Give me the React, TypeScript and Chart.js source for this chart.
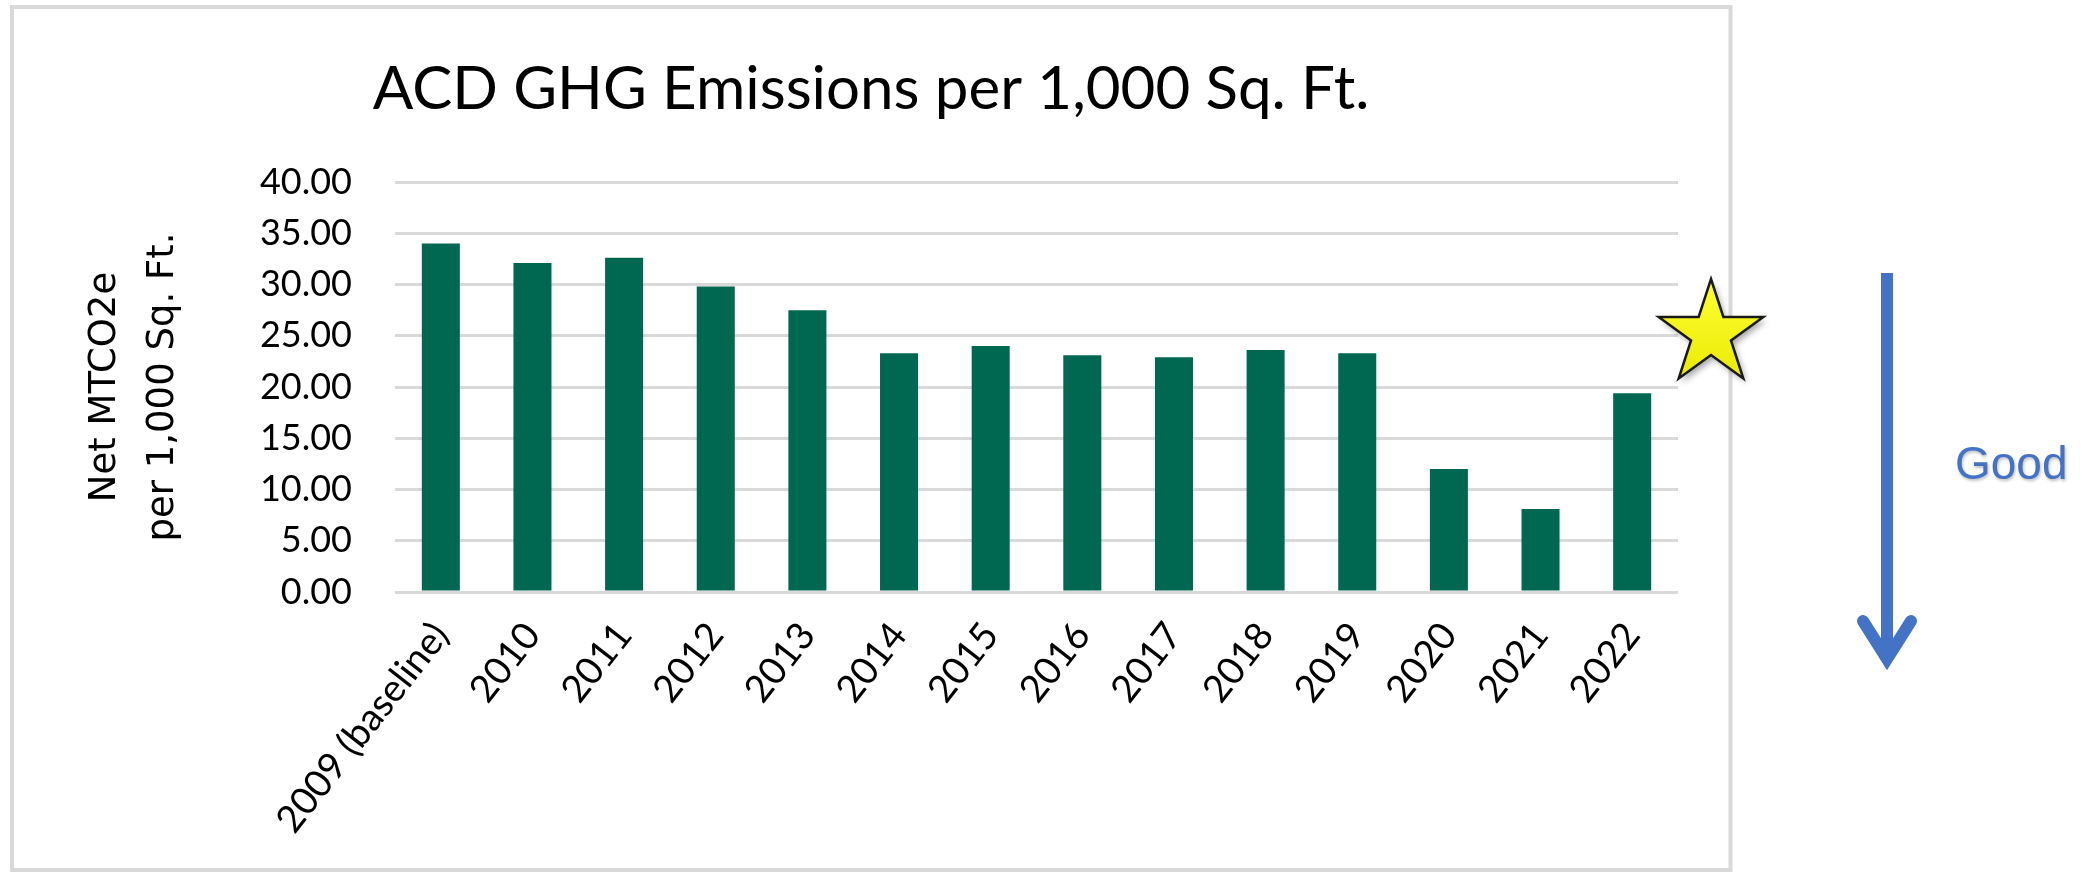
import React, { useEffect, useRef } from 'react';
import { Chart, registerables } from 'chart.js';

Chart.register(...registerables);

const categories = [
  '2009 (baseline)', '2010', '2011', '2012', '2013', '2014', '2015',
  '2016', '2017', '2018', '2019', '2020', '2021', '2022',
];
const emissions = [34.0, 32.1, 32.6, 29.8, 27.5, 23.3, 24.0, 23.1, 22.9, 23.6, 23.3, 12.0, 8.1, 19.4];
const yMin = 0;
const yMax = 40;
const yStep = 5;
const titleText = 'ACD GHG Emissions per 1,000 Sq. Ft.';
const yTitleLines = ['Net MTCO2e', 'per 1,000 Sq. Ft.'];
const noteText = 'Good';

const W = 2091;
const H = 872;
const FONT = 'Lato, "Noto Sans", sans-serif';

const decorPlugin = {
  id: 'decor',
  beforeDraw(chart: any) {
    const ctx = chart.ctx as CanvasRenderingContext2D;
    ctx.save();
    ctx.fillStyle = '#ffffff';
    ctx.fillRect(0, 0, chart.width, chart.height);
    ctx.strokeStyle = '#d9d9d9';
    ctx.lineWidth = 4;
    ctx.strokeRect(12, 7, 1718.5, 863);
    ctx.restore();
  },
  afterDraw(chart: any) {
    const ctx = chart.ctx as CanvasRenderingContext2D;
    // star
    ctx.save();
    const cx = 1711, cy = 334, R = 55, r = 21;
    ctx.beginPath();
    for (let k = 0; k < 10; k++) {
      const ang = -Math.PI / 2 + (k * Math.PI) / 5;
      const rad = k % 2 === 0 ? R : r;
      const px = cx + rad * Math.cos(ang);
      const py = cy + rad * Math.sin(ang);
      if (k === 0) ctx.moveTo(px, py); else ctx.lineTo(px, py);
    }
    ctx.closePath();
    ctx.shadowColor = 'rgba(0,0,0,0.35)';
    ctx.shadowBlur = 6;
    ctx.shadowOffsetX = 3;
    ctx.shadowOffsetY = 4;
    const g = ctx.createLinearGradient(cx, cy - R, cx, cy + R);
    g.addColorStop(0, '#ffff33');
    g.addColorStop(1, '#e8e800');
    ctx.fillStyle = g;
    ctx.fill();
    ctx.shadowColor = 'transparent';
    ctx.lineWidth = 2.5;
    ctx.strokeStyle = '#1a1a1a';
    ctx.lineJoin = 'miter';
    ctx.stroke();
    ctx.restore();

    // arrow
    ctx.save();
    ctx.strokeStyle = '#4472c4';
    ctx.lineWidth = 12;
    ctx.lineCap = 'butt';
    ctx.beginPath();
    ctx.moveTo(1887, 273);
    ctx.lineTo(1887, 660);
    ctx.stroke();
    ctx.lineCap = 'round';
    ctx.lineJoin = 'miter';
    ctx.beginPath();
    ctx.moveTo(1863, 621);
    ctx.lineTo(1887, 659);
    ctx.lineTo(1911, 621);
    ctx.stroke();
    ctx.restore();

    // note text
    ctx.save();
    ctx.font = '46px "Liberation Sans", Arial, sans-serif';
    ctx.fillStyle = '#4472c4';
    ctx.textBaseline = 'alphabetic';
    ctx.shadowColor = 'rgba(0,0,0,0.25)';
    ctx.shadowBlur = 3;
    ctx.shadowOffsetX = 1;
    ctx.shadowOffsetY = 2;
    ctx.fillText(noteText, 1955, 479);
    ctx.restore();
  },
};

export default function App() {
  const ref = useRef<HTMLCanvasElement | null>(null);

  useEffect(() => {
    if (!ref.current) return;
    const chart = new Chart(ref.current, {
      type: 'bar',
      data: {
        labels: categories,
        datasets: [
          {
            data: emissions,
            backgroundColor: '#006750',
            borderWidth: 0,
            categoryPercentage: 1,
            barPercentage: 0.415,
          },
        ],
      },
      options: {
        animation: false,
        responsive: false,
        maintainAspectRatio: false,
        devicePixelRatio: 1,
        layout: { padding: { left: 11, right: 360, top: 7, bottom: 0 } },
        plugins: {
          legend: { display: false },
          tooltip: { enabled: false },
          title: {
            display: true,
            text: titleText,
            color: '#000000',
            font: { family: FONT, size: 60, weight: 'normal', lineHeight: 1.2 },
            padding: { top: 47, bottom: 56 },
          },
        },
        scales: {
          x: {
            grid: { display: false, drawTicks: false },
            border: { display: false },
            ticks: {
              color: '#000000',
              font: { family: FONT, size: 38 },
              minRotation: 52,
              maxRotation: 52,
              autoSkip: false,
              padding: 22,
            },
            afterFit(scale: any) {
              scale.height = 280;
              scale.paddingRight = 413;
            },
          },
          y: {
            min: yMin,
            max: yMax,
            grid: { color: '#d9d9d9', lineWidth: 3, drawTicks: false },
            border: { display: false },
            ticks: {
              stepSize: yStep,
              color: '#000000',
              font: { family: FONT, size: 36 },
              padding: 43,
              callback: (v: any) => Number(v).toFixed(2),
            },
            title: {
              display: true,
              text: yTitleLines,
              color: '#000000',
              font: { family: '"DejaVu Sans", Verdana, sans-serif', size: 37, lineHeight: 1.55 },
              padding: { top: 66, bottom: 0 },
            },
            afterFit(scale: any) {
              scale.width = 384;
            },
          },
        },
      },
      plugins: [decorPlugin],
    });
    return () => chart.destroy();
  }, []);

  return (
    <div style={{ position: 'absolute', left: 0, top: 0, width: W, height: H, overflow: 'hidden', background: '#fff' }}>
      <canvas ref={ref} width={W} height={H} style={{ display: 'block', width: W, height: H }} />
    </div>
  );
}
